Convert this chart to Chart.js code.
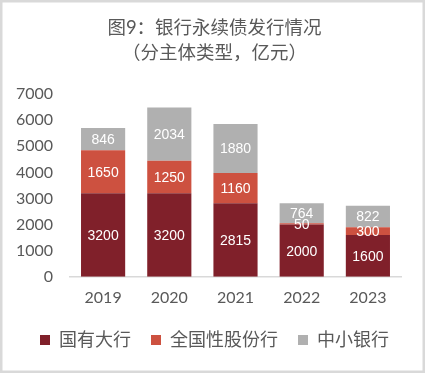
<!DOCTYPE html>
<html><head><meta charset="utf-8">
<script src="https://cdn.jsdelivr.net/npm/chart.js@4/dist/chart.umd.min.js"></script>
<style>html,body{margin:0;padding:0;background:#fff}#wrap{width:425px;height:373px}</style>
</head><body><div id="wrap"><canvas id="c" width="425" height="373"></canvas></div>
<script>
const categories = ['2019','2020','2021','2022','2023'];
const stateBanks = [3200,3200,2815,2000,1600];
const jointStockBanks = [1650,1250,1160,50,300];
const smallBanks = [846,2034,1880,764,822];
const yTicks = [0,1000,2000,3000,4000,5000,6000,7000];
const seriesNames = ['国有大行','全国性股份行','中小银行'];
const FONT = "Lato, 'Noto Sans CJK SC', sans-serif";
const LABEL_FONT = "'Liberation Sans Narrow', 'Liberation Sans', sans-serif";

const borderPlugin = {
  id:'border',
  beforeDraw(chart){
    const ctx=chart.ctx;ctx.save();ctx.fillStyle='#fff';ctx.fillRect(0,0,chart.width,chart.height);
    ctx.strokeStyle='#d9d9d9';ctx.lineWidth=2.5;ctx.strokeRect(1.25,1.25,chart.width-2.5,chart.height-2.5);ctx.restore();
  }
};
const labelPlugin = {
  id:'segLabels',
  afterDatasetsDraw(chart){
    const ctx=chart.ctx;ctx.save();
    ctx.fillStyle='#fff';ctx.font='14px '+LABEL_FONT;ctx.textAlign='center';ctx.textBaseline='middle';
    chart.data.datasets.forEach((ds,i)=>{
      chart.getDatasetMeta(i).data.forEach((bar,j)=>{
        const {x,y,base}=bar.getProps(['x','y','base'],true);
        ctx.fillText(String(ds.data[j]),x,(y+base)/2+1);
      });
    });
    ctx.restore();
  }
};
new Chart(document.getElementById('c'),{
  type:'bar',
  data:{labels:categories,datasets:[
    {label:seriesNames[0],data:stateBanks,backgroundColor:'#80202A'},
    {label:seriesNames[1],data:jointStockBanks,backgroundColor:'#CD5140'},
    {label:seriesNames[2],data:smallBanks,backgroundColor:'#B0B0B0'}
  ]},
  options:{
    responsive:false,animation:false,
    layout:{padding:{left:6,right:2,top:15,bottom:14}},
    datasets:{bar:{categoryPercentage:1,barPercentage:0.667}},
    plugins:{
      title:{display:true,text:['图9：银行永续债发行情况','（分主体类型，亿元）'],color:'#595959',font:{family:FONT,size:18.5,weight:'normal',lineHeight:1.38},padding:{top:0,bottom:28}},
      legend:{position:'bottom',labels:{color:'#595959',font:{family:FONT,size:18},boxWidth:10,boxHeight:10,padding:20},},
      tooltip:{enabled:false}
    },
    scales:{
      x:{stacked:true,afterFit(s){s.height-=7;},grid:{display:false,drawTicks:false},border:{color:'#d9d9d9',width:1.5},ticks:{color:'#595959',font:{family:FONT,size:16},padding:11}},
      y:{stacked:true,min:0,max:7000,afterFit(s){s.width=64;},afterBuildTicks(a){a.ticks=yTicks.map(v=>({value:v}));},grid:{display:false,drawTicks:false},border:{display:false},ticks:{color:'#595959',font:{family:FONT,size:16},padding:17,callback:v=>String(v)}},
      pad:{type:'linear',position:'right',display:true,afterFit(s){s.width=22;},grid:{display:false,drawTicks:false},border:{display:false},ticks:{display:false}}
    }
  },
  plugins:[borderPlugin,labelPlugin]
});
</script></body></html>
